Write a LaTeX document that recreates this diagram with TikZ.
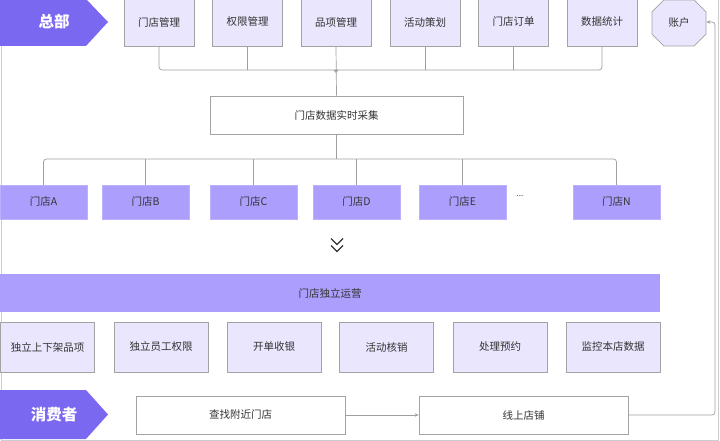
\documentclass[tikz,border=0pt]{standalone}
\usepackage{fontspec}
\setmainfont{Noto Sans CJK SC}
\usetikzlibrary{shapes.misc,arrows.meta}
\definecolor{hdr}{HTML}{7B68F0}
\definecolor{store}{HTML}{AB9EFD}
\definecolor{lav}{HTML}{E9E6FD}
\definecolor{bord}{HTML}{A3A3A3}
\definecolor{conn}{HTML}{A0A0A0}
\definecolor{txt}{HTML}{333333}
\definecolor{frame}{HTML}{CCCCCC}
\tikzset{
  lbl/.style={font=\fontsize{10.5pt}{12pt}\selectfont, text=txt, inner sep=0pt},
  topbox/.style={lbl, draw=bord, fill=lav, line width=0.7pt, minimum width=70pt, minimum height=48pt},
  acctbox/.style={lbl, draw=bord, fill=lav, line width=0.7pt, chamfered rectangle, chamfered rectangle xsep=7pt, chamfered rectangle ysep=7pt, minimum width=54pt, minimum height=46pt},
  whitebox/.style={lbl, draw=bord, fill=white, line width=0.7pt},
  storebox/.style={lbl, fill=store, draw=store!80!white, line width=0.5pt, minimum width=87pt, minimum height=34pt},
  funcbox/.style={lbl, draw=bord, fill=lav, line width=0.7pt, minimum width=94pt, minimum height=50pt},
  hdrtext/.style={font=\fontsize{15.5pt}{17pt}\selectfont\bfseries, text=white, inner sep=0pt},
  link/.style={draw=conn, line width=0.7pt, rounded corners=3pt},
  tip/.style={-{Stealth[length=4pt,width=3.5pt]}},
}
\begin{document}
\begin{tikzpicture}[x=1pt,y=-1pt]
\useasboundingbox (0,0) rectangle (720,441);
\fill[white] (0,0) rectangle (720,441);
% frame
\draw[frame, line width=0.8pt] (1,46) -- (1,440) -- (718,440) -- (718,0);
% header shapes
\fill[hdr] (-1,-1) -- (86,-1) -- (108,22) -- (86,46) -- (-1,46) -- cycle;
\node[hdrtext] (hq) at (54,22) {总部};
\fill[hdr] (-1,390) -- (86,390) -- (108,414.5) -- (86,439) -- (-1,439) -- cycle;
\node[hdrtext] (cons) at (54,414.5) {消费者};
% top boxes
\node[topbox] (t1) at (159,22) {门店管理};
\node[topbox] (t2) at (247.5,22) {权限管理};
\node[topbox] (t3) at (336,22) {品项管理};
\node[topbox] (t4) at (425,22) {活动策划};
\node[topbox] (t5) at (513.5,22) {门店订单};
\node[topbox] (t6) at (602,22) {数据统计};
\node[acctbox] (acct) at (679,23) {账户};
% collector
\node[whitebox, minimum width=253pt, minimum height=38pt] (coll) at (336.5,115) {门店数据实时采集};
\coordinate (j1) at (336,70);
\draw[link] (t1.south) |- (j1);
\draw[link] (t6.south) |- (j1);
\draw[link] (t2.south) -- (t2.south |- j1);
\draw[link] (t4.south) -- (t4.south |- j1);
\draw[link] (t5.south) -- (t5.south |- j1);
\draw[link] (t3.south) -- (coll.north);
\fill[conn] (333.5,70) -- (338.5,70) -- (336,73) -- cycle;
% stores
\node[storebox] (sA) at (43.5,202) {门店A};
\node[storebox] (sB) at (145.5,202) {门店B};
\node[storebox] (sC) at (253.5,202) {门店C};
\node[storebox] (sD) at (356.5,202) {门店D};
\node[storebox] (sE) at (462.5,202) {门店E};
\node[lbl, font=\fontsize{8pt}{9pt}\selectfont] (dots) at (520,196) {...};
\node[storebox] (sN) at (616.5,202) {门店N};
\coordinate (j2) at (336.5,159);
\draw[link] (coll.south) -- (j2);
\draw[link] (j2) -| (sA.north);
\draw[link] (j2) -| (sN.north);
\draw[link] (sB.north) -- (sB.north |- j2);
\draw[link] (sC.north) -- (sC.north |- j2);
\draw[link] (sD.north) -- (sD.north |- j2);
\draw[link] (sE.north) -- (sE.north |- j2);
% chevrons
\node[inner sep=0pt, minimum size=14pt] (chev) at (337,245) {};
\draw[txt, line width=1.3pt] (331,238.5) -- (337,244.5) -- (343,238.5);
\draw[txt, line width=1.3pt] (331,245.5) -- (337,251.5) -- (343,245.5);
% bar
\node[lbl, fill=store, minimum width=660pt, minimum height=38pt] (bar) at (330,293) {门店独立运营};
% functions
\node[funcbox] (f1) at (47.5,347) {独立上下架品项};
\node[funcbox] (f2) at (161,347) {独立员工权限};
\node[funcbox] (f3) at (274,347) {开单收银};
\node[funcbox] (f4) at (386.5,347) {活动核销};
\node[funcbox] (f5) at (500,347) {处理预约};
\node[funcbox] (f6) at (613,347) {监控本店数据};
% consumer row
\node[whitebox, minimum width=209pt, minimum height=38pt] (search) at (240.5,415) {查找附近门店};
\node[whitebox, minimum width=209pt, minimum height=38pt] (shop) at (523.5,415) {线上店铺};
\draw[link, tip] (search.east) -- (shop.west);
\coordinate (rc) at (715,22);
\draw[link, tip] (shop.east) -| (rc) -- (acct.east |- rc);
\end{tikzpicture}
\end{document}
